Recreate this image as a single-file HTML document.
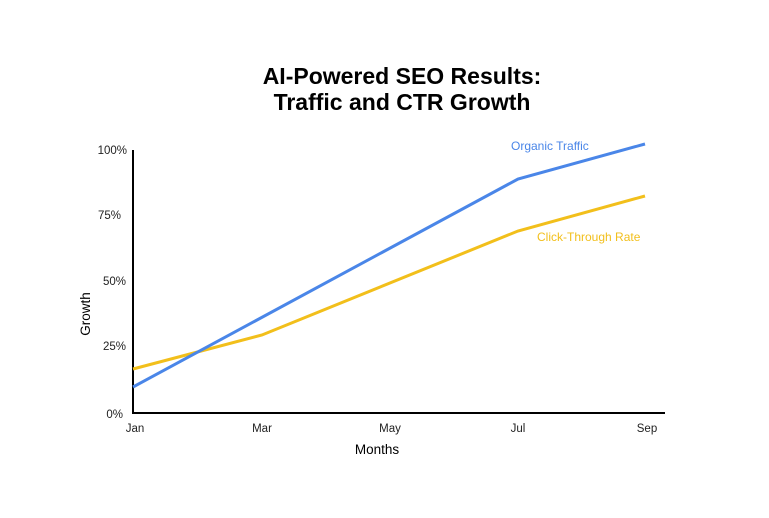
<!DOCTYPE html>
<html><head><meta charset="utf-8"><style>
html,body{margin:0;padding:0;background:#fff;}
svg{display:block;font-family:"Liberation Sans",Arial,sans-serif;}
</style></head><body>
<svg width="769" height="518" viewBox="0 0 769 518" xmlns="http://www.w3.org/2000/svg">
<rect width="769" height="518" fill="#fff"/>
<text x="402" y="84" font-size="23" font-weight="bold" text-anchor="middle" fill="#000">AI-Powered SEO Results:</text>
<text x="402" y="110" font-size="23" font-weight="bold" text-anchor="middle" fill="#000">Traffic and CTR Growth</text>
<g font-size="11.5" fill="#222" text-anchor="end">
<text x="127" y="154">100%</text>
<text x="121" y="219">75%</text>
<text x="126" y="285">50%</text>
<text x="126" y="350">25%</text>
<text x="123" y="418">0%</text>
</g>
<g font-size="11.5" fill="#222" text-anchor="middle">
<text x="135" y="432">Jan</text>
<text x="262" y="432">Mar</text>
<text x="390" y="432">May</text>
<text x="518" y="432">Jul</text>
<text x="647" y="432">Sep</text>
</g>
<text x="377" y="454" font-size="13.5" text-anchor="middle" fill="#000">Months</text>
<text transform="translate(90,314) rotate(-90)" font-size="13.5" text-anchor="middle" fill="#000">Growth</text>
<polyline points="133,150 133,413 665,413" fill="none" stroke="#000" stroke-width="2"/>
<polyline points="133,369 262,335 518,231 645,196" fill="none" stroke="#f2bf1b" stroke-width="3"/>
<polyline points="133,387 518,179 645,144" fill="none" stroke="#4a86e8" stroke-width="3"/>
<text x="511" y="150" font-size="12" fill="#4a86e8">Organic Traffic</text>
<text x="537" y="241" font-size="12" fill="#f2bf1b">Click-Through Rate</text>
</svg>
</body></html>
